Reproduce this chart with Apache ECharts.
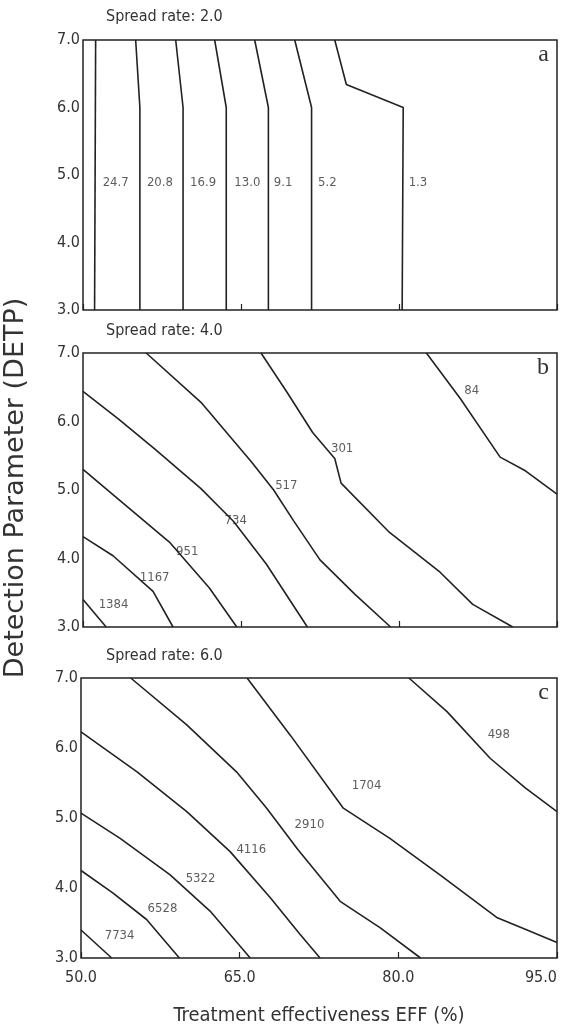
<!DOCTYPE html>
<html><head><meta charset="utf-8">
<script src="https://cdn.jsdelivr.net/npm/echarts@6/dist/echarts.min.js"></script>
<style>html,body{margin:0;padding:0;background:#fff}#c{width:562px;height:1030px}</style>
</head><body><div id="c"></div><script>
// ---- data ----
const effTicks = [50, 65, 80, 95];
const detpTicks = [3, 4, 5, 6, 7];
const spreadRates = ['2.0', '4.0', '6.0'];
const panelLetters = ['a', 'b', 'c'];

// Panel a (spread rate 2.0)
const levelsA = ['24.7', '20.8', '16.9', '13.0', '9.1', '5.2', '1.3'];
const linesA = [
  [[51.2, 7], [51.1, 3]],
  [[55.0, 7], [55.4, 6], [55.4, 3]],
  [[58.8, 7], [59.5, 6], [59.5, 3]],
  [[62.5, 7], [63.6, 6], [63.6, 3]],
  [[66.3, 7], [67.6, 6], [67.6, 3]],
  [[70.1, 7], [71.7, 6], [71.7, 3]],
  [[73.9, 7], [75.0, 6.34], [80.4, 6.0], [80.3, 3]]
];
const labelPosA = [[53.1, 4.88], [57.3, 4.88], [61.4, 4.88], [65.6, 4.88], [69.0, 4.88], [73.2, 4.88], [81.8, 4.88]];

// Panel b (spread rate 4.0)
const levelsB = ['1384', '1167', '951', '734', '517', '301', '84'];
const linesB = [
  [[50, 3.40], [52.2, 3.0]],
  [[50, 4.32], [52.85, 4.04], [56.65, 3.52], [58.55, 3.0]],
  [[50, 5.30], [53.8, 4.81], [58.2, 4.24], [62.0, 3.57], [64.6, 3.0]],
  [[50, 6.44], [53.35, 6.04], [56.8, 5.60], [61.2, 5.02], [64.3, 4.54], [67.4, 3.92], [71.3, 3.0]],
  [[56.0, 7], [61.2, 6.28], [66.0, 5.41], [68.1, 5.0], [70.0, 4.55], [72.5, 3.98], [75.8, 3.48], [79.2, 3.0]],
  [[66.9, 7], [69.4, 6.42], [71.8, 5.84], [73.9, 5.46], [74.5, 5.1], [79.1, 4.38], [83.9, 3.80], [87.0, 3.33], [90.8, 3.0]],
  [[82.6, 7], [85.8, 6.34], [89.6, 5.48], [92.0, 5.28], [95, 4.94]]
];
const labelPosB = [[52.9, 3.33], [56.8, 3.72], [59.9, 4.1], [64.5, 4.55], [69.3, 5.07], [74.6, 5.61], [86.9, 6.45]];

// Panel c (spread rate 6.0)
const levelsC = ['7734', '6528', '5322', '4116', '2910', '1704', '498'];
const linesC = [
  [[50, 3.40], [52.9, 3.0]],
  [[50, 4.25], [53.0, 3.93], [56.2, 3.55], [59.3, 3.0]],
  [[50, 5.07], [53.7, 4.71], [58.4, 4.19], [62.2, 3.67], [66.0, 3.0]],
  [[50, 6.23], [55.3, 5.66], [60.0, 5.09], [64.1, 4.52], [67.9, 3.86], [70.7, 3.34], [72.6, 3.0]],
  [[54.7, 7], [60.0, 6.33], [64.7, 5.66], [67.5, 5.15], [70.5, 4.55], [74.5, 3.81], [78.3, 3.43], [82.1, 3.0]],
  [[65.7, 7], [69.8, 6.18], [74.8, 5.14], [79.2, 4.71], [83.9, 4.19], [89.3, 3.58], [92.0, 3.41], [95, 3.22]],
  [[81.0, 7], [84.6, 6.52], [88.7, 5.85], [92.0, 5.43], [95, 5.09]]
];
const labelPosC = [[53.65, 3.32], [57.7, 3.70], [61.3, 4.14], [66.1, 4.55], [71.6, 4.91], [77.0, 5.46], [89.5, 6.19]];

const xAxisTitle = 'Treatment effectiveness EFF (%)';
const yAxisTitle = 'Detection Parameter (DETP)';

// ---- chart ----
const FONT = '"Liberation Sans Narrow", "DejaVu Sans Condensed", "Liberation Sans", sans-serif';
const TXT = '#333';
const LINE = '#222';
const panels = [
  { levels: levelsA, lines: linesA, labels: labelPosA },
  { levels: levelsB, lines: linesB, labels: labelPosB },
  { levels: levelsC, lines: linesC, labels: labelPosC }
];
const grids = [
  { left: 83, right: 5, top: 40, height: 270 },
  { left: 83, right: 5, top: 353, height: 274 },
  { left: 81, right: 5, top: 678, height: 280 }
];
const titleTops = [9, 323, 648];

const option = {
  backgroundColor: '#fff',
  animation: false,
  grid: grids.map(g => Object.assign({ show: true, borderColor: LINE, borderWidth: 1.5, backgroundColor: 'transparent' }, g)),
  title: [
    ...spreadRates.map((s, i) => ({
      text: 'Spread rate: ' + s, left: 106, top: titleTops[i], padding: 0,
      textStyle: { fontSize: 16, fontWeight: 'normal', color: TXT, fontFamily: FONT }
    })),
    ...panelLetters.map((l, i) => ({
      text: l, right: 13, top: grids[i].top + 3, padding: 0,
      textStyle: { fontSize: 24, fontWeight: 'normal', color: TXT, fontFamily: '"Liberation Serif", serif' }
    }))
  ],
  xAxis: grids.map((g, i) => ({
    type: 'value', gridIndex: i,
    min: effTicks[0], max: effTicks[effTicks.length - 1], interval: effTicks[1] - effTicks[0],
    axisLine: { show: false },
    axisTick: { show: true, inside: true, length: 6, lineStyle: { color: LINE, width: 1.2 } },
    splitLine: { show: false },
    axisLabel: {
      show: i === 2, formatter: v => v.toFixed(1), fontSize: 16, color: TXT, fontFamily: FONT, margin: 12,
      alignMaxLabel: 'right'
    },
    name: i === 2 ? xAxisTitle : '', nameLocation: 'middle', nameGap: 48,
    nameTextStyle: { fontSize: 20, color: TXT, fontFamily: FONT }
  })),
  yAxis: grids.map((g, i) => ({
    type: 'value', gridIndex: i,
    min: detpTicks[0], max: detpTicks[detpTicks.length - 1], interval: detpTicks[1] - detpTicks[0],
    axisLine: { show: false }, axisTick: { show: false }, splitLine: { show: false },
    axisLabel: { formatter: v => v.toFixed(1), fontSize: 16, color: TXT, fontFamily: FONT, margin: 3 }
  })),
  graphic: [{
    type: 'text', x: 16, y: 488, rotation: Math.PI / 2,
    style: { text: yAxisTitle, fill: TXT, font: '27px "DejaVu Sans", sans-serif', align: 'center', verticalAlign: 'middle' }
  }],
  series: []
};

panels.forEach((p, i) => {
  p.lines.forEach((ln, k) => {
    option.series.push({
      type: 'line', xAxisIndex: i, yAxisIndex: i, data: ln, showSymbol: false, silent: true,
      name: p.levels[k], lineStyle: { color: LINE, width: 1.6 }, clip: true
    });
  });
  option.series.push({
    type: 'scatter', xAxisIndex: i, yAxisIndex: i, symbolSize: 0, silent: true,
    data: p.levels.map((lv, k) => ({ name: lv, value: p.labels[k] })),
    label: { show: true, position: 'inside', formatter: '{b}', fontSize: 13, color: TXT, fontFamily: FONT }
  });
});

const chart = echarts.init(document.getElementById('c'), null, { renderer: 'canvas' });
chart.setOption(option);
</script></body></html>
